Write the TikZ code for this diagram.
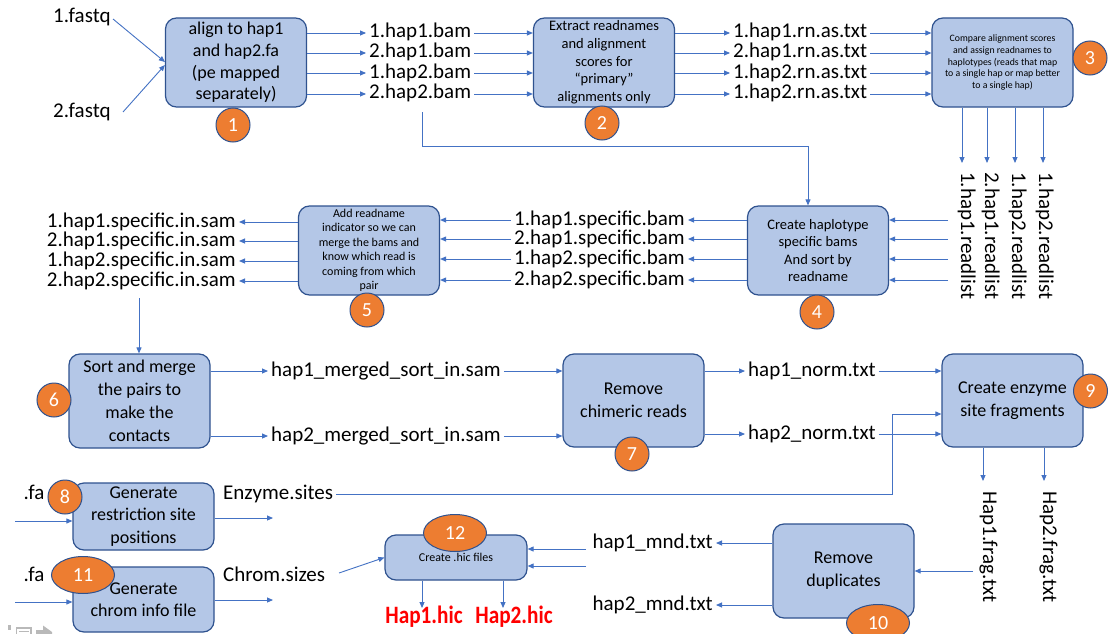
\documentclass[tikz,border=0pt]{standalone}
\usepackage{fontspec}
\usepackage{graphicx}
\setmainfont{Carlito}
\usetikzlibrary{arrows.meta,shapes.geometric,calc}
\definecolor{boxfill}{HTML}{B4C7E7}
\definecolor{boxline}{HTML}{2F528F}
\definecolor{flowblue}{HTML}{4472C4}
\definecolor{badgeorange}{HTML}{ED7D31}
\definecolor{hicred}{HTML}{FF0000}
\newcommand{\fsz}[2]{\fontsize{#1}{#2}\selectfont}

\begin{document}
\begin{tikzpicture}[x=1pt,y=-1pt,
  proc/.style={draw=boxline, fill=boxfill, line width=1.2pt, rounded corners=11pt,
               inner sep=0pt, align=center, minimum width=141pt},
  badge/.style={circle, draw=boxline, fill=badgeorange, line width=1pt, minimum size=34pt,
                inner sep=0pt, text=white, font=\fsz{20}{20}},
  oval/.style={badge, ellipse, minimum width=63pt, minimum height=37pt},
  lbl/.style={inner xsep=3pt, inner ysep=0pt, font=\fsz{21}{21}, text height=14pt, text depth=4pt},
  vlbl/.style={lbl, rotate=-90, anchor=west},
  hic/.style={inner sep=0pt, text=hicred, font=\fsz{25}{25}\bfseries},
  flow/.style={draw=flowblue, line width=0.9pt, -{Triangle[length=6pt,width=5pt]}},
]
\useasboundingbox (0,0) rectangle (1111,634);
\fill[white] (0,0) rectangle (1111,634);

% ---------- process boxes ----------
\node[proc, minimum height=89pt, font=\fsz{18}{21.7}] (b1) at (236,62.5)
  {align to hap1\\and hap2.fa\\(pe mapped\\separately)};
\node[proc, minimum height=89pt, font=\fsz{14.5}{17.7}] (b2) at (604,62.5)
  {Extract readnames\\and alignment\\scores for\\“primary”\\alignments only};
\node[proc, minimum height=89pt, font=\fsz{9.8}{11.7}] (b3) at (1002.5,62.5)
  {Compare alignment scores\\and assign readnames to\\haplotypes (reads that map\\to a single hap or map better\\to a single hap)};
\node[proc, minimum height=89pt, font=\fsz{14.5}{17.5}] (b4) at (818,250.5)
  {Create haplotype\\specific bams\\And sort by\\readname};
\node[proc, minimum height=89pt, font=\fsz{12}{14.5}] (b5) at (369,250.5)
  {Add readname\\indicator so we can\\merge the bams and\\know which read is\\coming from which\\pair};
\node[proc, minimum height=94pt, font=\fsz{18}{23}] (b6) at (139.5,401)
  {Sort and merge\\the pairs to\\make the\\contacts};
\node[proc, minimum height=93pt, font=\fsz{18}{23}] (b7) at (633.5,400.5)
  {Remove\\chimeric reads};
\node[proc, minimum height=93pt, font=\fsz{18}{23}] (b9) at (1012.5,400.5)
  {Create enzyme\\site fragments};
\node[proc, minimum height=67pt, font=\fsz{18}{22.5}] (b8) at (143.5,516.5)
  {Generate\\restriction site\\positions};
\node[proc, minimum height=65pt, font=\fsz{18}{22}] (b11) at (143.5,599.5)
  {Generate\\chrom info file};
\node[proc, minimum height=94pt, font=\fsz{18}{23}] (b10) at (843.5,571)
  {Remove\\duplicates};
\node[proc, minimum width=142pt, minimum height=45pt, font=\fsz{12}{14}] (b12) at (456,557.5)
  {Create .hic files};

% ---------- file labels ----------
\node[lbl, anchor=west] (fq1) at (50,18) {1.fastq};
\node[lbl, anchor=west] (fq2) at (50,112) {2.fastq};

\foreach \n/\t/\yy in {1/1.hap1.bam/33, 2/2.hap1.bam/53, 3/1.hap2.bam/73, 4/2.hap2.bam/94}
  \node[lbl, anchor=west] (bam\n) at (366,\yy) {\t};
\foreach \n/\t/\yy in {1/1.hap1.rn.as.txt/33, 2/2.hap1.rn.as.txt/53, 3/1.hap2.rn.as.txt/73, 4/1.hap2.rn.as.txt/94}
  \node[lbl, anchor=west] (rn\n) at (730,\yy) {\t};

\foreach \n/\t/\xx in {1/1.hap1.readlist/966, 2/2.hap1.readlist/990, 3/1.hap2.readlist/1017, 4/1.hap2.readlist/1044}
  \node[vlbl] (rl\n) at (\xx,169) {\t};

\foreach \n/\t/\yy in {1/1.hap1.specific.bam/220, 2/2.hap1.specific.bam/239, 3/1.hap2.specific.bam/259, 4/2.hap2.specific.bam/280}
  \node[lbl, anchor=east] (sb\n) at (688,\yy) {\t};
\foreach \n/\t/\yy in {1/1.hap1.specific.in.sam/222, 2/2.hap1.specific.in.sam/241, 3/1.hap2.specific.in.sam/261, 4/2.hap2.specific.in.sam/281}
  \node[lbl, anchor=east] (si\n) at (239,\yy) {\t};

\node[lbl, anchor=west] (mg1) at (268,371) {hap1\_merged\_sort\_in.sam};
\node[lbl, anchor=west] (mg2) at (268,436) {hap2\_merged\_sort\_in.sam};
\node[lbl, anchor=west] (nm1) at (745,371) {hap1\_norm.txt};
\node[lbl, anchor=west] (nm2) at (745,434) {hap2\_norm.txt};

\node[vlbl] (fr1) at (988,488) {Hap1.frag.txt};
\node[vlbl] (fr2) at (1048,488) {Hap2.frag.txt};

\node[lbl, anchor=east] (mn1) at (716,543) {hap1\_mnd.txt};
\node[lbl, anchor=east] (mn2) at (716,605) {hap2\_mnd.txt};

\node[lbl] (fa1) at (34,494) {.fa};
\node[lbl] (fa2) at (34,576) {.fa};
\node[lbl, anchor=west] (enz) at (220,494) {Enzyme.sites};
\node[lbl, anchor=west] (chr) at (220,576) {Chrom.sizes};

\node[hic] (hic1) at (424,617) {\scalebox{0.85}[1]{Hap1.hic}};
\node[hic] (hic2) at (514,617) {\scalebox{0.85}[1]{Hap2.hic}};

% ---------- free ends of connectors ----------
\coordinate (f1) at (113,19);
\coordinate (f2) at (123,112);
\coordinate (t0) at (422,112);
\coordinate (t1) at (808,146);
\foreach \n/\xx in {1/962, 2/987, 3/1015, 4/1043} \coordinate (d\n) at (\xx,163);
\foreach \n/\yy in {1/220, 2/239, 3/259, 4/280} \coordinate (r\n) at (948,\yy);
\coordinate (s6) at (139,298);
\coordinate (e1) at (892,414);
\coordinate (g1) at (983,481);
\coordinate (g2) at (1044,481);
\coordinate (q1) at (973,571);
\coordinate (m1) at (586,549);
\coordinate (m2) at (586,566);
\coordinate (c1) at (339,573);
\coordinate (h1) at (422,608);
\coordinate (h2) at (503,608);
\coordinate (i8) at (15,521);
\coordinate (o8) at (273,518);
\coordinate (i11) at (15,602);
\coordinate (o11) at (273,600);

% ---------- connectors ----------
\draw[flow] (f1) -- ([yshift=0.5pt]b1.west);
\draw[flow] (f2) -- ([yshift=-2.5pt]b1.west);
\foreach \n in {1,...,4} {
  \draw[flow] (bam\n.west -| b1.east) -- (bam\n.west);
  \draw[flow] (bam\n.east) -- (bam\n.east -| b2.west);
  \draw[flow] (rn\n.west -| b2.east) -- (rn\n.west);
  \draw[flow] (rn\n.east) -- (rn\n.east -| b3.west);
  \draw[flow] (d\n |- b3.south) -- (d\n);
  \draw[flow] (r\n) -- (r\n -| b4.east);
  \draw[flow] (sb\n.east -| b4.west) -- (sb\n.east);
  \draw[flow] (sb\n.west) -- (sb\n.west -| b5.east);
  \draw[flow] (si\n.east -| b5.west) -- (si\n.east);
}
\draw[flow] (t0) |- (t1) -- (t1 |- b4.north);
\draw[flow] (s6) -- (s6 |- b6.north);
\draw[flow] (mg1.west -| b6.east) -- (mg1.west);
\draw[flow] (mg2.west -| b6.east) -- (mg2.west);
\draw[flow] (mg1.east) -- (mg1.east -| b7.west);
\draw[flow] (mg2.east) -- (mg2.east -| b7.west);
\draw[flow] (nm1.west -| b7.east) -- (nm1.west);
\draw[flow] (nm2.west -| b7.east) -- (nm2.west);
\draw[flow] (nm1.east) -- (nm1.east -| b9.west);
\draw[flow] (nm2.east) -- (nm2.east -| b9.west);
\draw[flow] (enz.east) -| (e1) -- (e1 -| b9.west);
\draw[flow] (g1 |- b9.south) -- (g1);
\draw[flow] (g2 |- b9.south) -- (g2);
\draw[flow] (q1) -- (q1 -| b10.east);
\draw[flow] (mn1.east -| b10.west) -- (mn1.east);
\draw[flow] (mn2.east -| b10.west) -- (mn2.east);
\draw[flow] (m1) -- (m1 -| b12.east);
\draw[flow] (m2) -- (m2 -| b12.east);
\draw[flow] (c1) -- (b12.west);
\draw[flow] (h1 |- b12.south) -- (h1);
\draw[flow] (h2 |- b12.south) -- (h2);
\draw[flow] (i8) -- (i8 -| b8.west);
\draw[flow] (o8 -| b8.east) -- (o8);
\draw[flow] (i11) -- (i11 -| b11.west);
\draw[flow] (o11 -| b11.east) -- (o11);

% ---------- step badges ----------
\node[badge] (n1) at (233,125) {1};
\node[badge] (n2) at (602,123) {2};
\node[badge] (n3) at (1090,58) {3};
\node[badge] (n4) at (817,312) {4};
\node[badge] (n5) at (367,310) {5};
\node[badge] (n6) at (54,400) {6};
\node[badge] (n7) at (632,454) {7};
\node[badge] (n8) at (65,497) {8};
\node[badge] (n9) at (1090.5,391) {9};
\node[oval] (n10) at (878,623) {10};
\node[oval] (n11) at (83,575) {11};
\node[oval] (n12) at (455,533) {12};

% ---------- toolbar glyphs in the lower left corner ----------
\fill[gray!55] (8,625) rectangle (10.5,630);
\draw[gray!55, line width=1.6pt] (16.5,628) rectangle (31,637);
\draw[gray!55, line width=1.2pt] (19,631.5) -- (28.5,631.5);
\fill[gray!55] (36,630) -- (43,630) -- (43,625.5) -- (52,632) -- (52,635) -- (36,635) -- cycle;
\end{tikzpicture}
\end{document}
